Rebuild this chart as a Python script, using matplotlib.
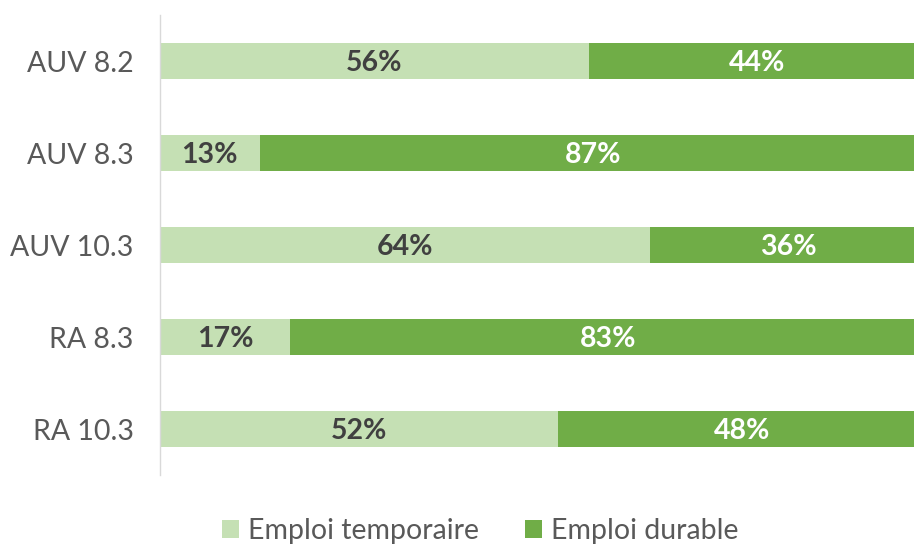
import matplotlib
matplotlib.use("Agg")
import matplotlib.pyplot as plt

plt.rcParams['font.family'] = ['Lato', 'DejaVu Sans']

categories = ["AUV 8.2", "AUV 8.3", "AUV 10.3", "RA 8.3", "RA 10.3"]
temporaire = [56, 13, 64, 17, 52]
durable = [44, 87, 36, 83, 48]
series_names = ["Emploi temporaire", "Emploi durable"]
colors = ["#C5E0B4", "#70AD47"]

fig = plt.figure(figsize=(9.14, 5.46), dpi=100)
ax = fig.add_axes([160/914, 1-475/546, 766/914, 460/546])

y = list(range(len(categories)))
h = 0.39
b1 = ax.barh(y, temporaire, height=h, color=colors[0], label=series_names[0])
b2 = ax.barh(y, durable, left=temporaire, height=h, color=colors[1], label=series_names[1])

for i in y:
    ax.text(temporaire[i]/2, i + 0.02, f"{temporaire[i]}%", ha='center', va='center',
            fontsize=20.5, fontweight='bold', color='#404040')
    ax.text(temporaire[i] + durable[i]/2, i + 0.02, f"{durable[i]}%", ha='center', va='center',
            fontsize=20.5, fontweight='bold', color='white')

ax.set_xlim(0, 100)
ax.set_ylim(4.5, -0.5)
ax.set_yticks(y)
ax.set_yticklabels(categories, fontsize=20.5, color='#595959')
ax.tick_params(axis='y', length=0, pad=19)
ax.set_xticks([])
for s in ['top', 'right', 'bottom']:
    ax.spines[s].set_visible(False)
ax.spines['left'].set_color('#D9D9D9')
ax.spines['left'].set_linewidth(1)

fig.legend(handles=[b1, b2], labels=series_names, loc='center', bbox_to_anchor=(480/914, 1-531/546),
           ncol=2, frameon=False, fontsize=20.5, handlelength=0.62, handleheight=0.62,
           columnspacing=1.6, handletextpad=0.3, labelcolor='#595959')

fig.savefig("out.png", dpi=100)
